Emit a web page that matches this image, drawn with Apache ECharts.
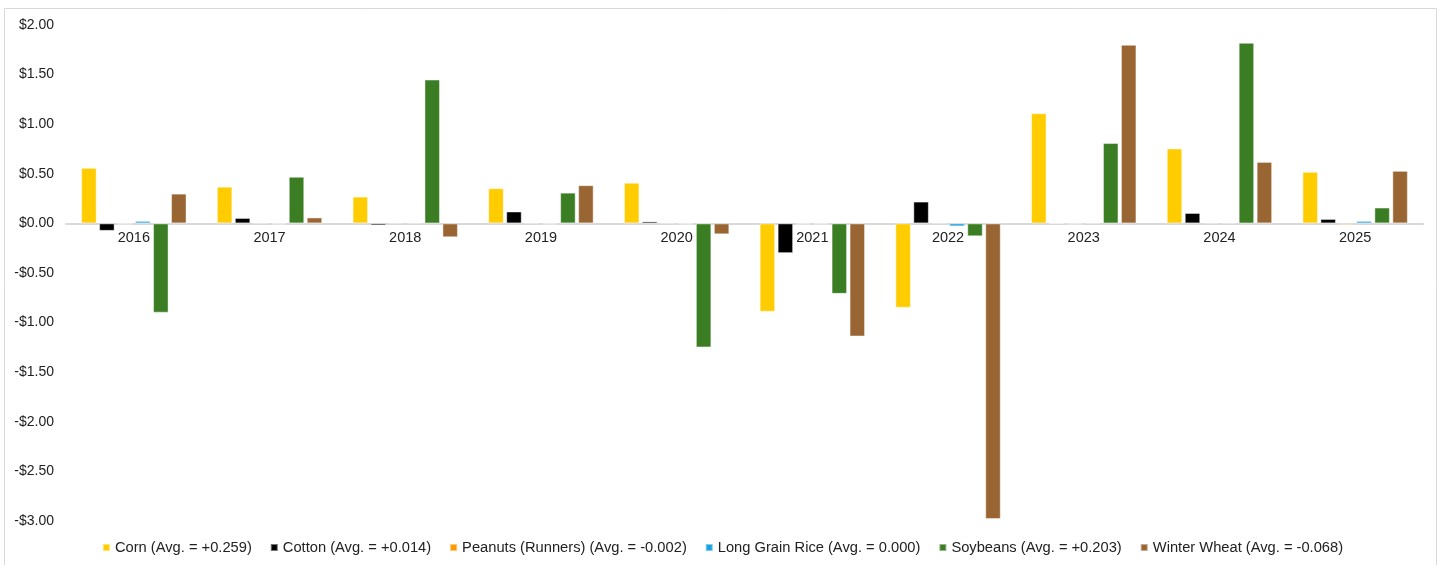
<!DOCTYPE html>
<html>
<head>
<meta charset="utf-8">
<script src="https://cdn.jsdelivr.net/npm/echarts@6/dist/echarts.min.js"></script>
<style>
  html, body { margin: 0; padding: 0; background: #fff; }
  #chart { width: 1445px; height: 565px; }
</style>
</head>
<body>
<div id="chart"></div>
<script>
// Marketing years
const years = ['2016', '2017', '2018', '2019', '2020', '2021', '2022', '2023', '2024', '2025'];

// Yearly difference, $ per unit, for each crop
const corn      = [0.56, 0.37, 0.27, 0.355, 0.41, -0.89, -0.85, 1.11, 0.755, 0.52];
const cotton    = [-0.075, 0.055, -0.02, 0.12, 0.02, -0.30, 0.22, 0.0, 0.105, 0.045];
const peanuts   = [-0.01, 0.008, 0.008, 0.008, 0.008, -0.01, 0.008, -0.01, 0.008, -0.015];
const rice      = [0.025, -0.01, 0.008, -0.01, -0.01, -0.01, -0.03, 0.008, 0.008, 0.025];
const soybeans  = [-0.90, 0.47, 1.45, 0.31, -1.25, -0.71, -0.13, 0.81, 1.82, 0.16];
const wheat     = [0.30, 0.06, -0.14, 0.385, -0.11, -1.14, -2.98, 1.80, 0.62, 0.53];

// Value axis range and step
const Y_MIN = -3;
const Y_MAX = 2;
const Y_STEP = 0.5;

const seriesNames = [
  'Corn (Avg. = +0.259)',
  'Cotton (Avg. = +0.014)',
  'Peanuts (Runners) (Avg. = -0.002)',
  'Long Grain Rice (Avg. = 0.000)',
  'Soybeans (Avg. = +0.203)',
  'Winter Wheat (Avg. = -0.068)'
];
const seriesData = [corn, cotton, peanuts, rice, soybeans, wheat];
const colors = ['#FFCC00', '#000000', '#FF9900', '#1BA1E2', '#3A7D23', '#996633'];

const FONT = '"Liberation Sans", Arial, Helvetica, sans-serif';

const W = 1445, H = 565;
const GRID = { left: 66, right: 22, top: 25, bottom: 44 };
// Category axis sits on the zero line: shift it up from the grid bottom
const plotH = H - GRID.top - GRID.bottom;
const zeroOffset = plotH * (0 - Y_MIN) / (Y_MAX - Y_MIN);

const chart = echarts.init(document.getElementById('chart'), null, { renderer: 'canvas' });

chart.setOption({
  animation: false,
  color: colors,
  textStyle: { fontFamily: FONT },
  graphic: [{
    type: 'rect',
    shape: { x: 4.5, y: 8.5, width: 1432, height: 600 },
    style: { fill: 'none', stroke: '#d9d9d9', lineWidth: 1 },
    silent: true,
    z: -1
  }],
  grid: Object.assign({ containLabel: false }, GRID),
  legend: {
    bottom: 5,
    left: 'center',
    itemWidth: 7,
    itemHeight: 7,
    itemGap: 18,
    icon: 'rect',
    textStyle: { fontFamily: FONT, fontSize: 14.7, color: '#222' },
    data: seriesNames
  },
  xAxis: {
    type: 'category',
    data: years,
    offset: -zeroOffset,
    axisLine: { onZero: false, lineStyle: { color: '#d9d9d9', width: 2 } },
    axisTick: { show: false },
    axisLabel: { fontFamily: FONT, fontSize: 14.5, color: '#222', margin: 7 },
    splitLine: { show: false },
    z: 1
  },
  yAxis: {
    type: 'value',
    min: Y_MIN,
    max: Y_MAX,
    interval: Y_STEP,
    axisLine: { show: false },
    axisTick: { show: false },
    splitLine: { show: false },
    axisLabel: {
      fontFamily: FONT,
      fontSize: 14,
      color: '#222',
      margin: 12,
      formatter: v => (v < 0 ? '-$' : '$') + Math.abs(v).toFixed(2)
    }
  },
  series: seriesNames.map((name, i) => ({
    name,
    type: 'bar',
    data: seriesData[i],
    barWidth: 15.5,
    barGap: '16%',
    z: 3,
    itemStyle: {
      color: colors[i],
      borderColor: 'rgba(255,255,255,0.45)',
      borderWidth: 1
    }
  }))
});
</script>
</body>
</html>
